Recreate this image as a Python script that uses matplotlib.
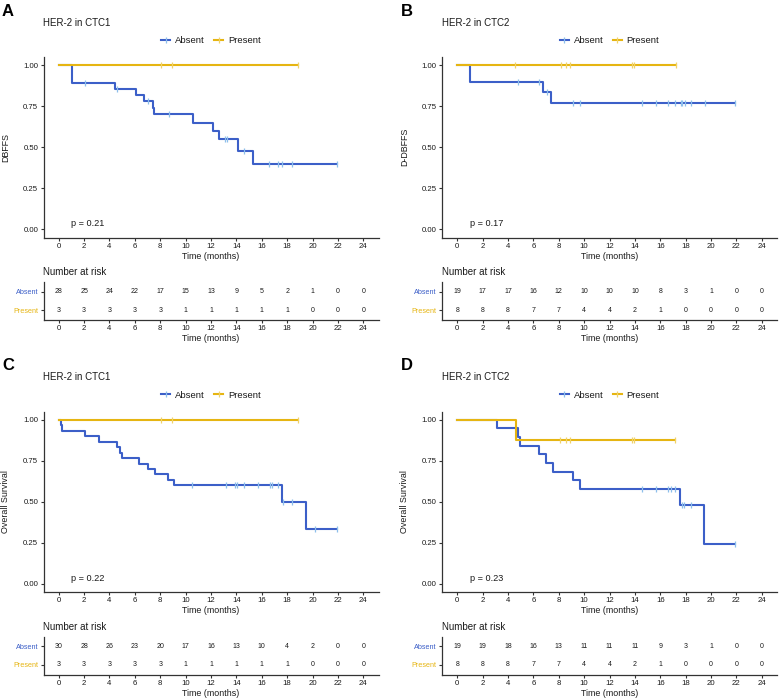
import numpy as np
import matplotlib
matplotlib.use("Agg")
import matplotlib.pyplot as plt
from matplotlib.lines import Line2D

plt.rcParams['font.family'] = ['Liberation Sans', 'DejaVu Sans']

# ---------------- data ----------------
risk_times = [0, 2, 4, 6, 8, 10, 12, 14, 16, 18, 20, 22, 24]
groups = ["Absent", "Present"]

# Panel A: DBFFS, HER-2 in CTC1
A_abs_times = [0, 1.05, 4.41, 6.07, 6.75, 7.43, 7.5, 10.56, 12.13, 12.66, 14.13, 15.33]
A_abs_surv = [1.0, 0.893, 0.857, 0.818, 0.779, 0.740, 0.700, 0.645, 0.597, 0.548, 0.480, 0.400]
A_abs_cens = [2.05, 4.57, 7.06, 8.67, 13.13, 13.29, 14.6, 16.6, 17.3, 17.6, 18.4, 21.9]
A_pre_times = [0]
A_pre_surv = [1.0]
A_pre_cens = [8.09, 8.9, 18.88]
A_risk_abs = [28, 25, 24, 22, 17, 15, 13, 9, 5, 2, 1, 0, 0]
A_risk_pre = [3, 3, 3, 3, 3, 1, 1, 1, 1, 1, 0, 0, 0]

# Panel B: D-DBFFS, HER-2 in CTC2
B_abs_times = [0, 1.0, 6.72, 7.4]
B_abs_surv = [1.0, 0.895, 0.839, 0.770]
B_abs_cens = [4.75, 6.41, 7.04, 9.14, 9.66, 14.6, 15.63, 16.62, 17.15, 17.6, 17.7, 17.94, 18.4, 19.5, 21.87]
B_pre_times = [0]
B_pre_surv = [1.0]
B_pre_cens = [4.54, 8.14, 8.6, 8.88, 13.8, 13.97, 17.25]
B_risk_abs = [19, 17, 17, 16, 12, 10, 10, 10, 8, 3, 1, 0, 0]
B_risk_pre = [8, 8, 8, 7, 7, 4, 4, 2, 1, 0, 0, 0, 0]

# Panel C: Overall Survival, HER-2 in CTC1
C_abs_times = [0, 0.18, 0.26, 2.05, 3.15, 4.62, 4.8, 4.99, 6.35, 7.01, 7.59, 8.64, 9.09, 17.59, 19.49]
C_abs_surv = [1.0, 0.967, 0.933, 0.900, 0.867, 0.833, 0.800, 0.767, 0.733, 0.700, 0.667, 0.633, 0.600, 0.500, 0.333]
C_abs_cens = [10.5, 13.16, 13.9, 14.08, 14.63, 15.68, 16.65, 16.78, 17.28, 17.65, 18.4, 20.2, 21.9]
C_pre_times = [0]
C_pre_surv = [1.0]
C_pre_cens = [8.09, 8.9, 18.88]
C_risk_abs = [30, 28, 26, 23, 20, 17, 16, 13, 10, 4, 2, 0, 0]
C_risk_pre = [3, 3, 3, 3, 3, 1, 1, 1, 1, 1, 0, 0, 0]

# Panel D: Overall Survival, HER-2 in CTC2
D_abs_times = [0, 3.15, 4.75, 4.94, 6.41, 7.01, 7.54, 9.11, 9.66, 17.54, 19.46]
D_abs_surv = [1.0, 0.947, 0.895, 0.842, 0.789, 0.737, 0.684, 0.632, 0.579, 0.483, 0.242]
D_abs_cens = [14.6, 15.63, 16.62, 16.83, 17.15, 17.7, 17.9, 18.4, 21.87]
D_pre_times = [0, 4.6]
D_pre_surv = [1.0, 0.875]
D_pre_cens = [8.09, 8.56, 8.88, 13.8, 13.97, 17.2]
D_risk_abs = [19, 19, 18, 16, 13, 11, 11, 11, 9, 3, 1, 0, 0]
D_risk_pre = [8, 8, 8, 7, 7, 4, 4, 2, 1, 0, 0, 0, 0]

panels = [
    dict(letter="A", title="HER-2 in CTC1", ylabel="DBFFS", p="p = 0.21",
         abs=(A_abs_times, A_abs_surv, A_abs_cens), pre=(A_pre_times, A_pre_surv, A_pre_cens),
         risk=(A_risk_abs, A_risk_pre)),
    dict(letter="B", title="HER-2 in CTC2", ylabel="D-DBFFS", p="p = 0.17",
         abs=(B_abs_times, B_abs_surv, B_abs_cens), pre=(B_pre_times, B_pre_surv, B_pre_cens),
         risk=(B_risk_abs, B_risk_pre)),
    dict(letter="C", title="HER-2 in CTC1", ylabel="Overall Survival", p="p = 0.22",
         abs=(C_abs_times, C_abs_surv, C_abs_cens), pre=(C_pre_times, C_pre_surv, C_pre_cens),
         risk=(C_risk_abs, C_risk_pre)),
    dict(letter="D", title="HER-2 in CTC2", ylabel="Overall Survival", p="p = 0.23",
         abs=(D_abs_times, D_abs_surv, D_abs_cens), pre=(D_pre_times, D_pre_surv, D_pre_cens),
         risk=(D_risk_abs, D_risk_pre)),
]

# ---------------- style ----------------
W, H = 779, 700
BLUE = "#3C5FC8"
BLUE_C = "#8DBFEB"
YEL = "#E6B512"
YEL_C = "#F0D36A"
AXC = "#333333"
TXT = "#1a1a1a"

fig = plt.figure(figsize=(W / 100, H / 100), dpi=100)

def fx(px):
    return px / W

def fy(py):
    return 1 - py / H

def style_axis(ax):
    for s in ["top", "right"]:
        ax.spines[s].set_visible(False)
    for s in ["left", "bottom"]:
        ax.spines[s].set_color(AXC)
        ax.spines[s].set_linewidth(0.9)
    ax.tick_params(axis="both", direction="out", length=2.2, width=0.8, color=AXC,
                   labelsize=5.6, labelcolor=TXT, pad=1.6)

def surv_at(times, surv, t):
    idx = np.searchsorted(np.asarray(times), np.asarray(t), side="right") - 1
    return np.asarray(surv)[idx]

x_off = [0, 398.5, 0, 398.5]
y_off = [0, 0, 354.5, 354.5]

for i, pn in enumerate(panels):
    xo, yo = x_off[i], y_off[i]
    left_px = 43.5 + xo
    width_px = 335
    top_px = 57 + yo
    bot_px = 237.5 + yo
    ax = fig.add_axes([fx(left_px), fy(bot_px), fx(width_px), (bot_px - top_px) / H])
    style_axis(ax)
    ax.set_xlim(-1.2, 25.2)
    ax.set_ylim(-0.05, 1.05)
    ax.set_xticks(risk_times)
    ax.set_yticks([0, 0.25, 0.5, 0.75, 1.0])
    ax.set_yticklabels(["0.00", "0.25", "0.50", "0.75", "1.00"])

    for key, lc, cc in [("abs", BLUE, BLUE_C), ("pre", YEL, YEL_C)]:
        t, s, c = pn[key]
        end = max(t[-1], max(c))
        ax.step(list(t) + [end], list(s) + [s[-1]], where="post", color=lc, lw=1.5, zorder=3)
        ax.plot(c, surv_at(t, s, c), linestyle="none", marker="|", ms=4.5, mew=0.9,
                color=cc, zorder=4)

    ax.text(0.97, 0.035, pn["p"], fontsize=6.6, color=TXT, ha="left", va="center")
    ax.set_xlabel("Time (months)", fontsize=6.4, color=TXT, labelpad=1.5)
    fig.text(fx(6 + xo), fy(147 + yo), pn["ylabel"], rotation=90, fontsize=6.4,
             color=TXT, ha="center", va="center")

    # title and panel letter
    fig.text(fx(2 + xo), fy(11 + yo), pn["letter"], fontsize=12, fontweight="bold",
             color="black", ha="left", va="center")
    fig.text(fx(43 + xo), fy(22.5 + yo), pn["title"], fontsize=7, color=TXT,
             ha="left", va="center")

    handles = [Line2D([0], [0], color=BLUE, lw=1.5, marker="|", ms=4.5, mew=0.9,
                      markeredgecolor=BLUE_C),
               Line2D([0], [0], color=YEL, lw=1.5, marker="|", ms=4.5, mew=0.9,
                      markeredgecolor=YEL_C)]
    leg = ax.legend(handles, groups, ncol=2, loc="center",
                    bbox_to_anchor=(0.5, 1 + 16.5 / 180.5), frameon=False,
                    fontsize=6.8, handlelength=0.95, handletextpad=0.5,
                    columnspacing=1.0, borderaxespad=0)
    for txt in leg.get_texts():
        txt.set_color(TXT)

    # risk table
    t_top = 282 + yo
    t_bot = 320 + yo
    rax = fig.add_axes([fx(left_px), fy(t_bot), fx(width_px), (t_bot - t_top) / H])
    style_axis(rax)
    rax.set_xlim(-1.2, 25.2)
    rax.set_ylim(0.45, 2.55)
    rax.set_xticks(risk_times)
    rax.set_yticks([2, 1])
    rax.set_yticklabels(groups, fontsize=5.2)
    for lab, col in zip(rax.get_yticklabels(), [BLUE, YEL]):
        lab.set_color(col)
    ra, rp = pn["risk"]
    for xt, va_, vp in zip(risk_times, ra, rp):
        rax.text(xt, 2, str(va_), fontsize=5.0, ha="center", va="center", color=TXT)
        rax.text(xt, 1, str(vp), fontsize=5.0, ha="center", va="center", color=TXT)
    rax.set_xlabel("Time (months)", fontsize=6.4, color=TXT, labelpad=1.5)
    fig.text(fx(43 + xo), fy(272 + yo), "Number at risk", fontsize=7, color=TXT,
             ha="left", va="center")

fig.savefig("out.png", dpi=100, facecolor="white")
